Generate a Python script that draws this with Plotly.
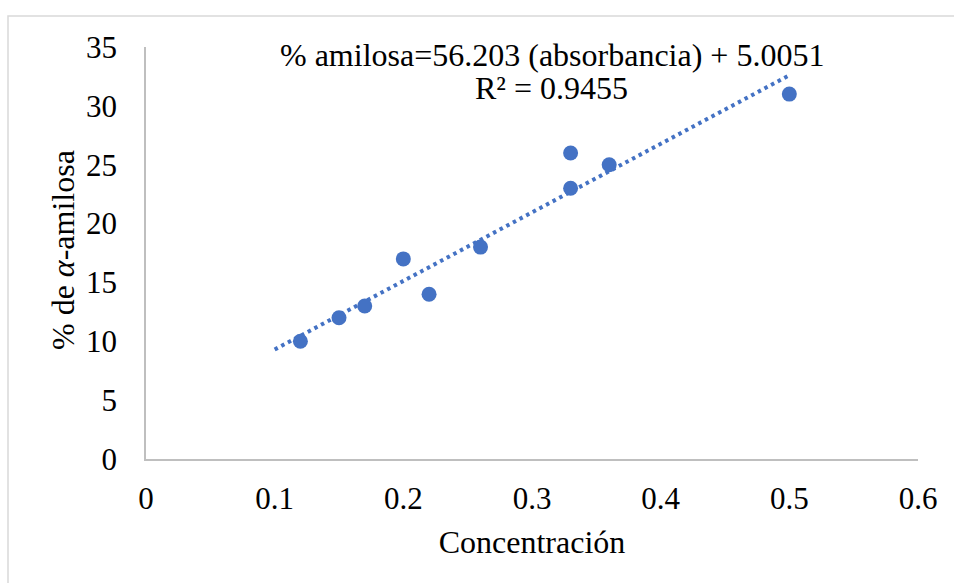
import plotly.graph_objects as go

# Data
concentracion = [0.12, 0.15, 0.17, 0.20, 0.22, 0.26, 0.33, 0.33, 0.36, 0.50]
amilosa = [10, 12, 13, 17, 14, 18, 26, 23, 25, 31]
trend_x = [0.1, 0.5]
trend_y = [9.3, 32.6]
x_ticks = [0, 0.1, 0.2, 0.3, 0.4, 0.5, 0.6]
x_tick_labels = ["0", "0.1", "0.2", "0.3", "0.4", "0.5", "0.6"]
y_ticks = [0, 5, 10, 15, 20, 25, 30, 35]
equation_line = "% amilosa=56.203 (absorbancia) + 5.0051"
r2_line = "R² = 0.9455"
x_title = "Concentración"
y_title = "% de <i>α</i>-amilosa"

BLUE = "#4472C4"
FONT = "'Liberation Serif', 'Times New Roman', Times, serif"

# plot-area pixel geometry (for placing text annotations)
L, R, T, B = 146, 918, 47, 459


def px(xp):
    return (xp - L) / (R - L)


def py(yp):
    return (B - yp) / (B - T)


fig = go.Figure()
fig.add_trace(go.Scatter(
    x=trend_x, y=trend_y, mode="lines",
    line=dict(color=BLUE, width=4, dash="3.5px,4px"),
    showlegend=False, hoverinfo="skip",
))
fig.add_trace(go.Scatter(
    x=concentracion, y=amilosa, mode="markers",
    marker=dict(color=BLUE, size=15, line=dict(width=0)),
    showlegend=False,
))

fig.update_layout(
    width=954, height=583,
    margin=dict(l=L, r=954 - R, t=T, b=583 - B),
    paper_bgcolor="white", plot_bgcolor="white",
    font=dict(family=FONT, size=31, color="black"),
    xaxis=dict(
        range=[0, 0.6], tickvals=x_ticks, ticktext=x_tick_labels,
        showgrid=False, zeroline=False, showline=True,
        linecolor="#BFBFBF", linewidth=1.5, ticks="",
        ticklabelstandoff=11,
        title=dict(text=x_title, font=dict(family=FONT, size=32), standoff=16),
    ),
    yaxis=dict(
        range=[0, 35], tickvals=y_ticks,
        showgrid=False, zeroline=False, showline=True,
        linecolor="#BFBFBF", linewidth=1.5, ticks="",
        ticklabelstandoff=21,
    ),
    annotations=[
        dict(text=equation_line, xref="paper", yref="paper",
             x=px(551.5), y=py(55), xanchor="center", yanchor="middle",
             showarrow=False, font=dict(family=FONT, size=32, color="black")),
        dict(text=r2_line, xref="paper", yref="paper",
             x=px(551), y=py(88), xanchor="center", yanchor="middle",
             showarrow=False, font=dict(family=FONT, size=32, color="black")),
        dict(text=y_title, xref="paper", yref="paper", textangle=-90,
             x=px(63), y=py(250), xanchor="center", yanchor="middle",
             showarrow=False, font=dict(family=FONT, size=32, color="black")),
    ],
    shapes=[dict(
        type="rect", xref="paper", yref="paper",
        x0=px(8), x1=px(1010), y0=py(620), y1=py(16),
        line=dict(color="#D9D9D9", width=1.5), fillcolor="rgba(0,0,0,0)",
        layer="below",
    )],
)

fig.write_html("out.html", config={"displayModeBar": False},
               post_script="document.body.style.margin='0';")
